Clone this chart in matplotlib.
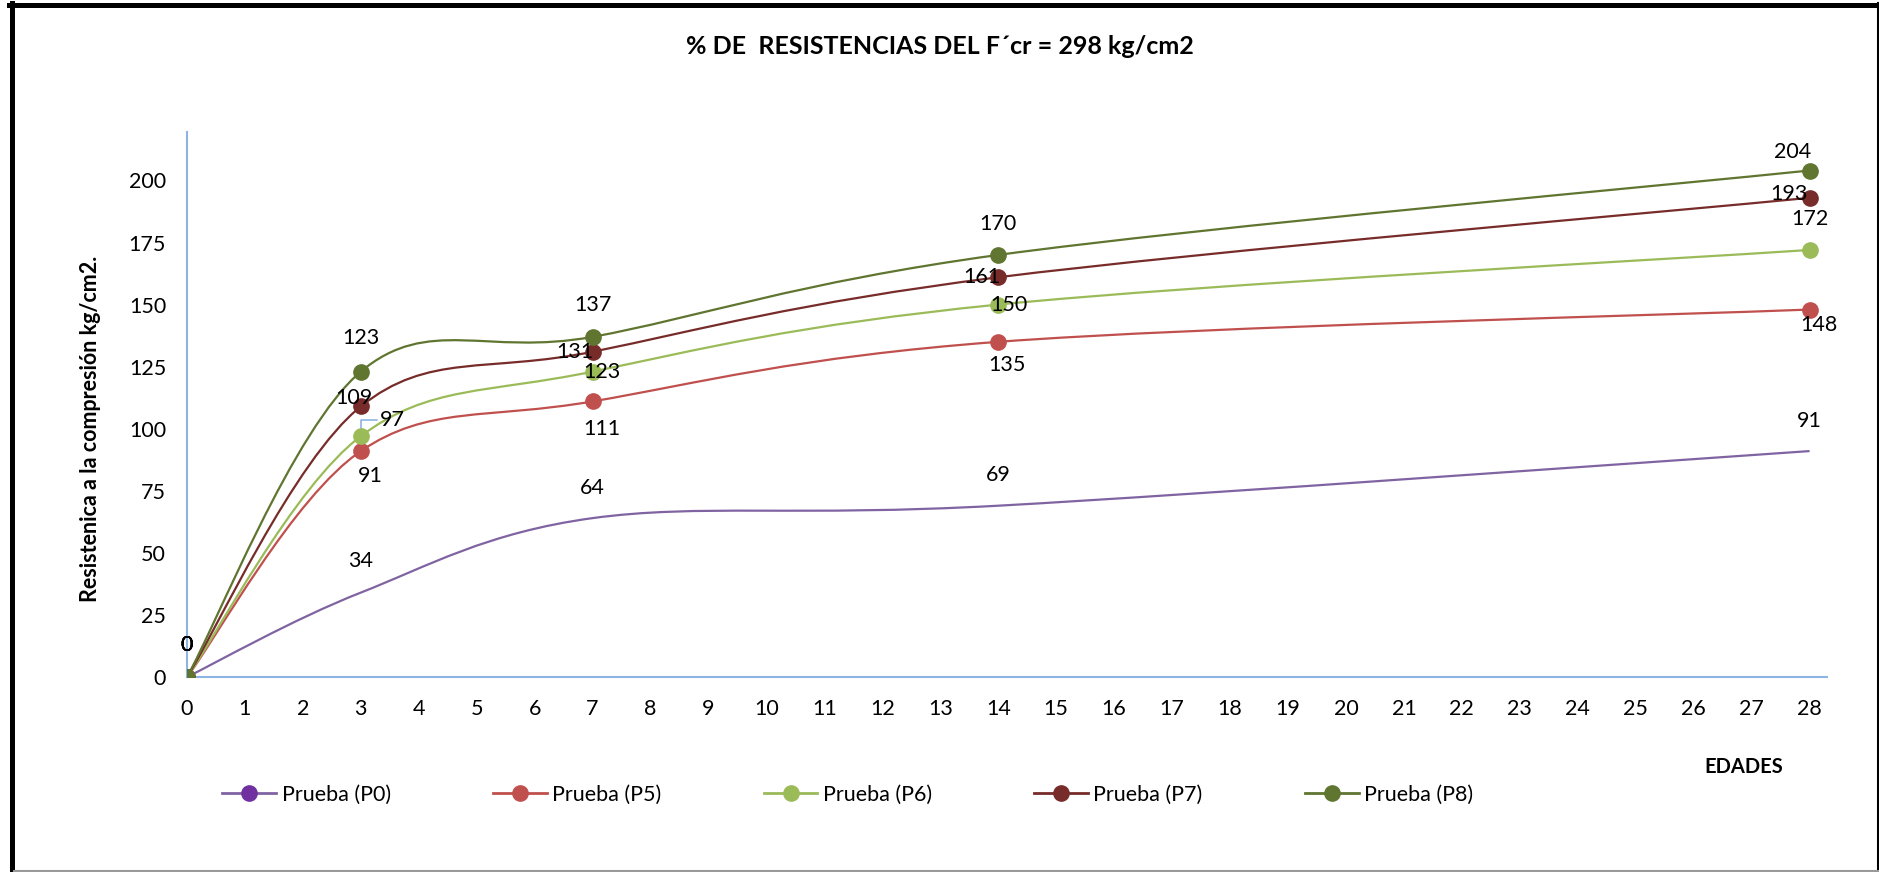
import numpy as np
import matplotlib
matplotlib.use('Agg')
import matplotlib.pyplot as plt
from matplotlib.path import Path
from matplotlib.patches import PathPatch
from matplotlib.lines import Line2D

plt.rcParams['font.family'] = ['Lato', 'DejaVu Sans']

# data
edades = [0, 3, 7, 14, 28]
p0 = [0, 34, 64, 69, 91]
p5 = [0, 91, 111, 135, 148]
p6 = [0, 97, 123, 150, 172]
p7 = [0, 109, 131, 161, 193]
p8 = [0, 123, 137, 170, 204]
series = [p0, p5, p6, p7, p8]
names = ['Prueba (P0)', 'Prueba (P5)', 'Prueba (P6)', 'Prueba (P7)', 'Prueba (P8)']
line_colors = ['#8064A2', '#C0504D', '#9BBB59', '#772C2A', '#5F7530']
marker_colors = ['#7030A0', '#C0504D', '#9BBB59', '#772C2A', '#5F7530']
xticks = list(range(0, 29))
yticks = [0, 25, 50, 75, 100, 125, 150, 175, 200]

# label offsets in points (one per point)
offsets = [
    [(0, 23), (0, 23), (0, 22), (0, 22), (0, 22)],
    [(0, 23), (7, -18), (7, -20), (6, -17), (7, -11)],
    [(0, 23), (23, 12), (7, 0), (8, 0), (0, 22)],
    [(0, 23), (-5, 6), (-13, 0), (-12, 0), (-15, 3)],
    [(0, 23), (0, 24), (0, 23), (0, 22), (-12, 13)],
]
show_markers = [False, True, True, True, True]


def excel_smooth(xs, ys):
    # bezier curve through the points, like excel's smoothed line
    pts = np.column_stack([xs, ys]).astype(float)
    n = len(pts)
    verts = [pts[0]]
    codes = [Path.MOVETO]
    for i in range(n - 1):
        prev = pts[max(i - 1, 0)]
        nxt = pts[min(i + 2, n - 1)]
        c1 = pts[i] + (pts[i + 1] - prev) / 6
        c2 = pts[i + 1] - (nxt - pts[i]) / 6
        verts += [c1, c2, pts[i + 1]]
        codes += [Path.CURVE4] * 3
    return Path(verts, codes)


fig = plt.figure(figsize=(18.79, 8.72), dpi=100)
ax = fig.add_axes([0.0995, 0.2236, 0.8728, 0.625])

for k, ys in enumerate(series):
    ax.add_patch(PathPatch(excel_smooth(edades, ys), facecolor='none',
                           edgecolor=line_colors[k], lw=1.6, zorder=2 + k))
    if show_markers[k]:
        ax.plot(edades, ys, ls='none', marker='o', ms=11, color=marker_colors[k],
                mec=marker_colors[k], zorder=3 + k)
    else:
        ax.plot(edades[:1], ys[:1], ls='none', marker='o', ms=11, color=marker_colors[k],
                mec=marker_colors[k], zorder=3 + k)
    for j, (xv, yv) in enumerate(zip(edades, ys)):
        ax.annotate(str(yv), (xv, yv), xytext=offsets[k][j], textcoords='offset points',
                    ha='center', va='center', fontsize=15.5, color='black', zorder=20)

# leader line for the 97 label
ax.annotate('', (3, 97), xytext=(12, 12), textcoords='offset points',
            arrowprops=dict(arrowstyle='-', color='#8EB4E3', lw=1.2,
                            connectionstyle='angle,angleA=0,angleB=90,rad=0',
                            shrinkA=0, shrinkB=3), zorder=1)

ax.set_xlim(0, 28.3)
ax.set_ylim(0, 219.5)
ax.set_xticks(xticks)
ax.set_yticks(yticks)
ax.tick_params(axis='both', length=0, labelsize=15.5)
ax.tick_params(axis='x', pad=16)
ax.tick_params(axis='y', pad=15)
for s in ['top', 'right']:
    ax.spines[s].set_visible(False)
for s in ['left', 'bottom']:
    ax.spines[s].set_color('#8EB4E3')
    ax.spines[s].set_linewidth(1.5)

fig.text(0.5, 0.947, '% DE  RESISTENCIAS DEL F´cr = 298 kg/cm2', ha='center', va='center',
         fontsize=18, fontweight='bold')
fig.text(0.048, 0.508, 'Resistenica a la compresión kg/cm2.', rotation=90, ha='center',
         va='center', fontsize=15.5, fontweight='bold')
fig.text(0.928, 0.120, 'EDADES', ha='center', va='center', fontsize=14.5, fontweight='bold')

handles = [Line2D([], [], color=line_colors[k], lw=2, marker='o', ms=11,
                  mfc=marker_colors[k], mec=marker_colors[k]) for k in range(5)]
fig.legend(handles, names, ncol=5, loc='center left', bbox_to_anchor=(0.108, 0.089),
           frameon=False, fontsize=15.5, handlelength=2.5, handletextpad=0.25,
           columnspacing=4.75)

# outer frame
fig.add_artist(Line2D([11.5 / 1879, 11.5 / 1879], [1 - 3 / 872, 0], color='black', lw=3.6,
                      transform=fig.transFigure))
fig.add_artist(Line2D([9 / 1879, 1], [1 - 5.5 / 872, 1 - 5.5 / 872], color='black', lw=3.6,
                      transform=fig.transFigure))
fig.add_artist(Line2D([1 - 1.5 / 1879, 1 - 1.5 / 1879], [1 - 3 / 872, 0], color='black', lw=2.2,
                      transform=fig.transFigure))
fig.add_artist(Line2D([14 / 1879, 1], [1 / 872, 1 / 872], color='#999999', lw=1.5,
                      transform=fig.transFigure))

fig.savefig('out.png', dpi=100)
